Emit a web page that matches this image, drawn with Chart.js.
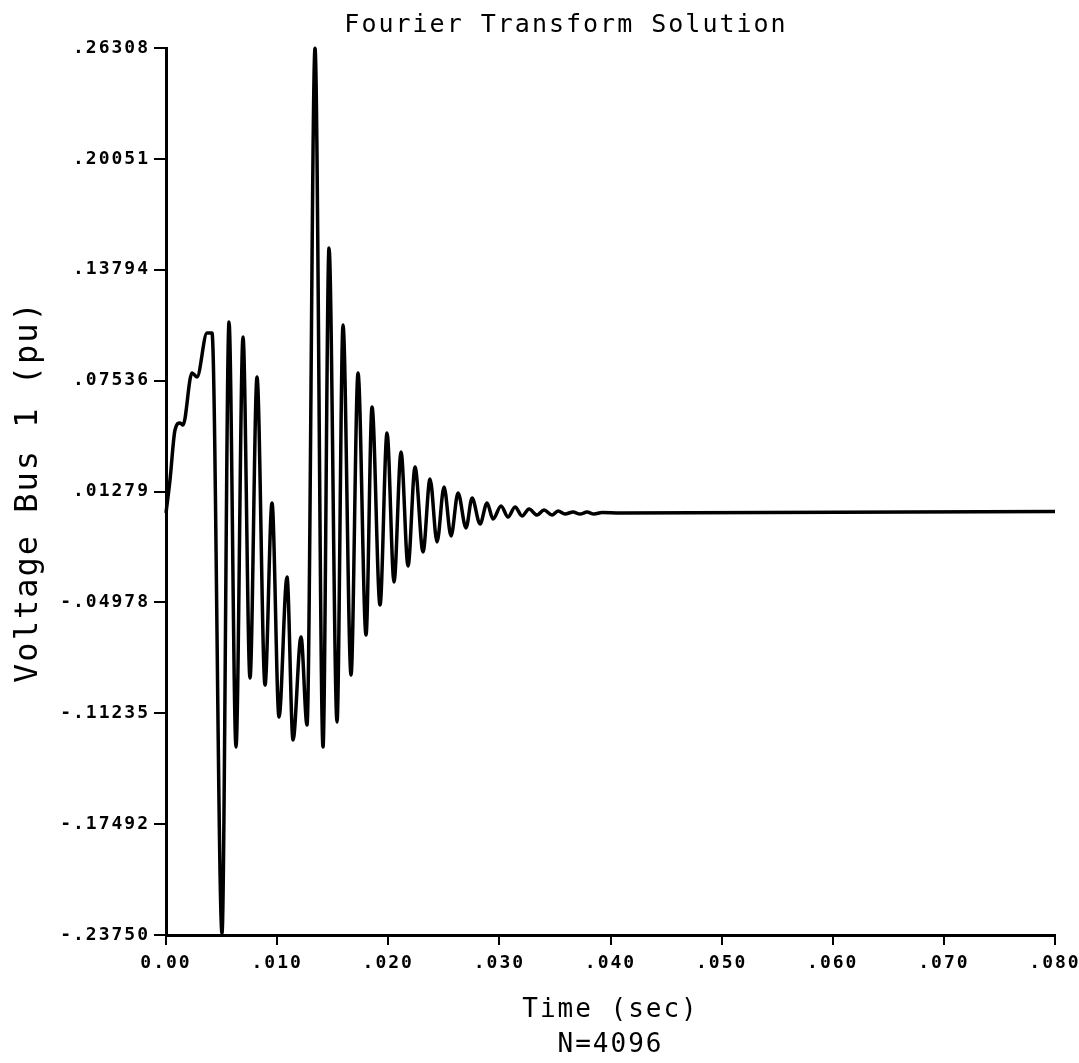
<!DOCTYPE html>
<html>
<head>
<meta charset="utf-8">
<script src="https://cdn.jsdelivr.net/npm/chart.js@4"></script>
<style>
  body { margin: 0; background: #fff; }
  canvas { display: block; }
</style>
</head>
<body>
<canvas id="fourier" width="1079" height="1063"></canvas>
<script>
// time (s) and bus voltage (pu) at its turning points
const timeSec = [0, 0.00036, 0.00081, 0.00126, 0.00153, 0.00234, 0.00279, 0.00369, 0.00414,
  0.00504, 0.00567, 0.00630, 0.00693, 0.00756, 0.00819, 0.00891, 0.00954, 0.01017, 0.01089,
  0.01143, 0.01215, 0.01269, 0.01341, 0.01413, 0.01467, 0.01539, 0.01593, 0.01665, 0.01728,
  0.01800, 0.01854, 0.01926, 0.01989, 0.02052, 0.02115, 0.02178, 0.02241, 0.02313, 0.02376,
  0.02439, 0.02502, 0.02565, 0.02628, 0.02700, 0.02754, 0.02826, 0.02889, 0.02943, 0.03015,
  0.03078, 0.03141, 0.03204, 0.03267, 0.03339, 0.03402, 0.03474, 0.03528, 0.03591, 0.03663,
  0.03726, 0.03789, 0.03852, 0.03924, 0.04086, 0.08000];
const voltagePu = [0.0007, 0.0193, 0.0475, 0.0515, 0.0503, 0.0797, 0.0774, 0.1022, 0.1022,
  -0.2364, 0.1085, -0.1314, 0.1000, -0.0925, 0.0774, -0.0964, 0.0063, -0.1145, -0.0355,
  -0.1274, -0.0693, -0.1190, 0.2630, -0.1314, 0.1502, -0.1173, 0.1068, -0.0908, 0.0797,
  -0.0682, 0.0605, -0.0513, 0.0458, -0.0383, 0.0351, -0.0293, 0.0266, -0.0213, 0.0199,
  -0.0157, 0.0153, -0.0123, 0.0120, -0.0078, 0.0091, -0.0055, 0.0063, -0.0027, 0.0046,
  -0.0016, 0.0041, -0.0010, 0.0029, -0.0005, 0.0024, -0.0005, 0.0018, 0.0001, 0.0012,
  0.0001, 0.0012, 0.0001, 0.0009, 0.0007, 0.0015];

const yTickValues = [-0.23750, -0.17492, -0.11235, -0.04978, 0.01279, 0.07536, 0.13794, 0.20051, 0.26308];
const yTickLabels = ['-.23750', '-.17492', '-.11235', '-.04978', '.01279', '.07536', '.13794', '.20051', '.26308'];
const xTickValues = [0, 0.01, 0.02, 0.03, 0.04, 0.05, 0.06, 0.07, 0.08];
const xTickLabels = ['0.00', '.010', '.020', '.030', '.040', '.050', '.060', '.070', '.080'];

const mono = 'DejaVu Sans Mono';

// plotter-like wide letter spacing, plus the title placed where the plotter put it
const plotterText = {
  id: 'plotterText',
  beforeUpdate(chart) { chart.ctx.letterSpacing = '2px'; },
  beforeDraw(chart) { chart.ctx.letterSpacing = '2px'; },
  afterDraw(chart) {
    const ctx = chart.ctx;
    ctx.save();
    ctx.font = '25px "' + mono + '"';
    ctx.fillStyle = '#000';
    ctx.textAlign = 'center';
    ctx.textBaseline = 'middle';
    ctx.fillText('Fourier Transform Solution', 566, 25);
    ctx.restore();
  }
};

const points = timeSec.map((t, i) => ({ x: t, y: voltagePu[i] }));

new Chart(document.getElementById('fourier'), {
  type: 'line',
  data: {
    datasets: [{
      data: points,
      borderColor: '#000',
      borderWidth: 3.5,
      pointRadius: 0,
      cubicInterpolationMode: 'monotone',
      clip: false
    }]
  },
  options: {
    responsive: false,
    animation: false,
    layout: { padding: { top: 48, right: 24, left: 0, bottom: 0 } },
    plugins: {
      legend: { display: false },
      tooltip: { enabled: false }
    },
    scales: {
      x: {
        type: 'linear',
        min: 0,
        max: 0.08,
        afterBuildTicks: s => { s.ticks = xTickValues.map(v => ({ value: v })); },
        afterFit: s => { s.height = 128; s.paddingLeft = 0; s.paddingRight = 0; },
        ticks: {
          autoSkip: false,
          maxRotation: 0,
          padding: 8,
          color: '#000',
          font: { family: mono, size: 18, weight: 'bold' },
          callback: (v, i) => xTickLabels[i]
        },
        grid: { drawOnChartArea: false, tickLength: 10, color: '#000', lineWidth: 2 },
        border: { display: true, color: '#000', width: 3 },
        title: {
          display: true,
          text: ['Time (sec)', 'N=4096'],
          color: '#000',
          font: { family: mono, size: 26, lineHeight: '35px' },
          padding: { top: 0, bottom: 0 }
        }
      },
      y: {
        type: 'linear',
        min: -0.23750,
        max: 0.26308,
        afterBuildTicks: s => { s.ticks = yTickValues.map(v => ({ value: v })); },
        afterFit: s => { s.width = 166; s.paddingTop = 0; s.paddingBottom = 0; },
        ticks: {
          autoSkip: false,
          padding: 4,
          color: '#000',
          font: { family: mono, size: 18, weight: 'bold' },
          callback: (v, i) => yTickLabels[i]
        },
        grid: { drawOnChartArea: false, tickLength: 12, color: '#000', lineWidth: 2 },
        border: { display: true, color: '#000', width: 3 },
        title: {
          display: true,
          text: 'Voltage Bus 1 (pu)',
          color: '#000',
          font: { family: mono, size: 32 },
          padding: { top: 9, bottom: 0 }
        }
      }
    }
  },
  plugins: [plotterText]
});
</script>
</body>
</html>
